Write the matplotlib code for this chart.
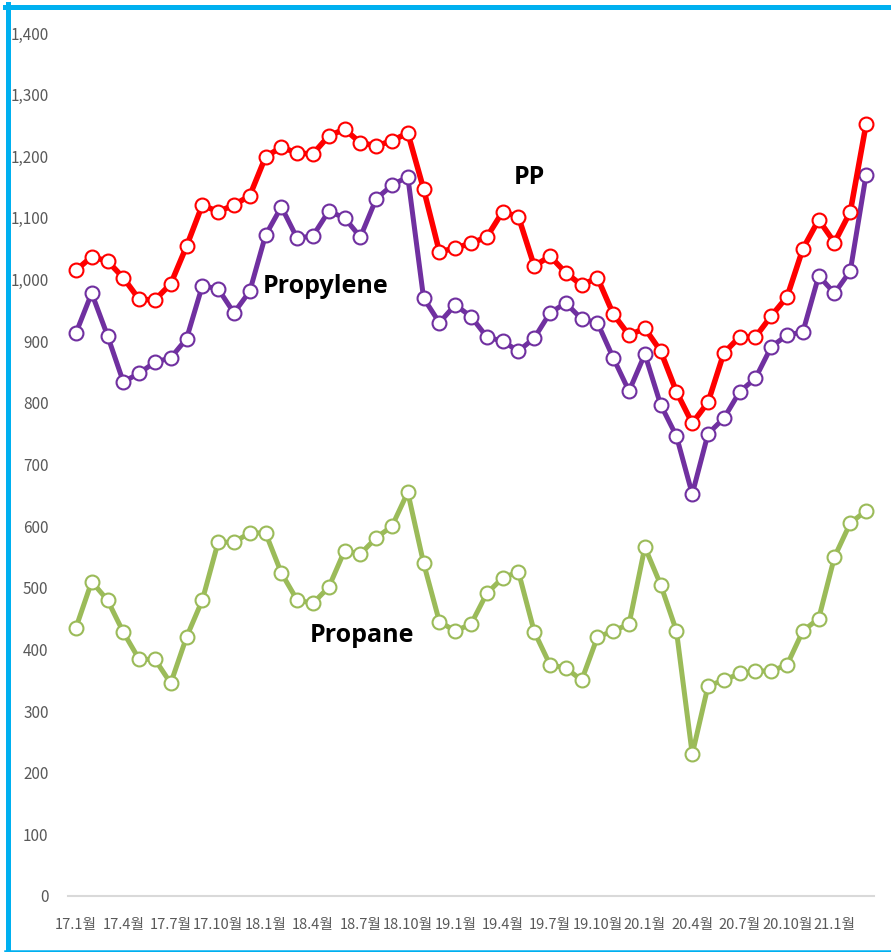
import matplotlib.pyplot as plt
from matplotlib.lines import Line2D
import numpy as np

plt.rcParams['font.family'] = ['Noto Sans CJK KR', 'DejaVu Sans']

# monthly data, 17.1 ~ 21.3
months = ['%d.%d월' % (17 + i // 12, i % 12 + 1) for i in range(51)]

pp = [1015, 1037, 1030, 1003, 968, 967, 993, 1054, 1121, 1110,
      1121, 1136, 1199, 1215, 1205, 1204, 1233, 1244, 1222, 1217,
      1225, 1238, 1147, 1045, 1051, 1059, 1069, 1110, 1102, 1022,
      1038, 1011, 991, 1003, 944, 910, 921, 884, 818, 767,
      801, 881, 907, 907, 941, 972, 1050, 1097, 1060, 1110, 1252]

propylene = [913, 978, 909, 834, 848, 866, 873, 904, 990, 985,
             946, 981, 1072, 1118, 1067, 1071, 1111, 1100, 1069, 1131,
             1153, 1167, 970, 930, 959, 940, 907, 900, 884, 905,
             946, 962, 936, 930, 873, 819, 879, 797, 746, 652,
             750, 775, 818, 840, 891, 910, 915, 1006, 978, 1014, 1170]

propane = [435, 510, 480, 428, 384, 384, 345, 420, 480, 574,
           574, 589, 589, 524, 480, 475, 501, 560, 555, 581,
           600, 655, 540, 445, 430, 441, 491, 516, 526, 429,
           375, 370, 350, 420, 430, 441, 566, 505, 430, 230,
           341, 350, 361, 365, 365, 375, 430, 450, 550, 605, 625]

fig = plt.figure(figsize=(8.91, 9.52), dpi=100)
ax = fig.add_axes([68 / 891, 1 - 896 / 952, 806 / 891, 863 / 952])

x = np.arange(len(months))
for vals, col, lw in [(propane, '#9BBB59', 3.6), (propylene, '#7030A0', 3.6),
                      (pp, '#FF0000', 4.0)]:
    ax.plot(x, vals, color=col, lw=lw, marker='o', ms=10,
            mfc='white', mec=col, mew=1.5, zorder=3)

ax.set_xlim(-0.5, len(months) - 0.5)
ax.set_ylim(0, 1400)
ax.set_yticks(range(0, 1401, 100))
ax.set_yticklabels(['{:,}'.format(v) for v in range(0, 1401, 100)])
ax.set_xticks(x[::3])
ax.set_xticklabels(months[::3])
ax.tick_params(axis='both', length=0, colors='#595959')
ax.tick_params(axis='y', pad=14, labelsize=11)
ax.tick_params(axis='x', pad=15.5, labelsize=10.5)

for s in ['top', 'right', 'left']:
    ax.spines[s].set_visible(False)
ax.spines['bottom'].set_color('#D9D9D9')
ax.spines['bottom'].set_linewidth(1.5)

lab_font = ['Open Sans', 'DejaVu Sans']
ax.text(28.7, 1165, 'PP', fontsize=18, fontweight='bold', ha='center', va='center',
        family=lab_font)
ax.text(15.8, 988, 'Propylene', fontsize=18, fontweight='bold', ha='center', va='center',
        family=lab_font)
ax.text(18.1, 423, 'Propane', fontsize=18, fontweight='bold', ha='center', va='center',
        family=lab_font)

# blue frame (cut off on the right)
W, H = 891, 952
blue = '#00B0F0'
fig.add_artist(Line2D([7.5 / W, 7.5 / W], [0, 1 - 4 / H], transform=fig.transFigure,
                      color=blue, lw=3.6))
fig.add_artist(Line2D([5 / W, 1], [1 - 6.5 / H, 1 - 6.5 / H], transform=fig.transFigure,
                      color=blue, lw=3.6))
fig.add_artist(Line2D([5 / W, 1], [1.2 / H, 1.2 / H], transform=fig.transFigure,
                      color=blue, lw=1.8))

fig.savefig('out.png', dpi=100)
